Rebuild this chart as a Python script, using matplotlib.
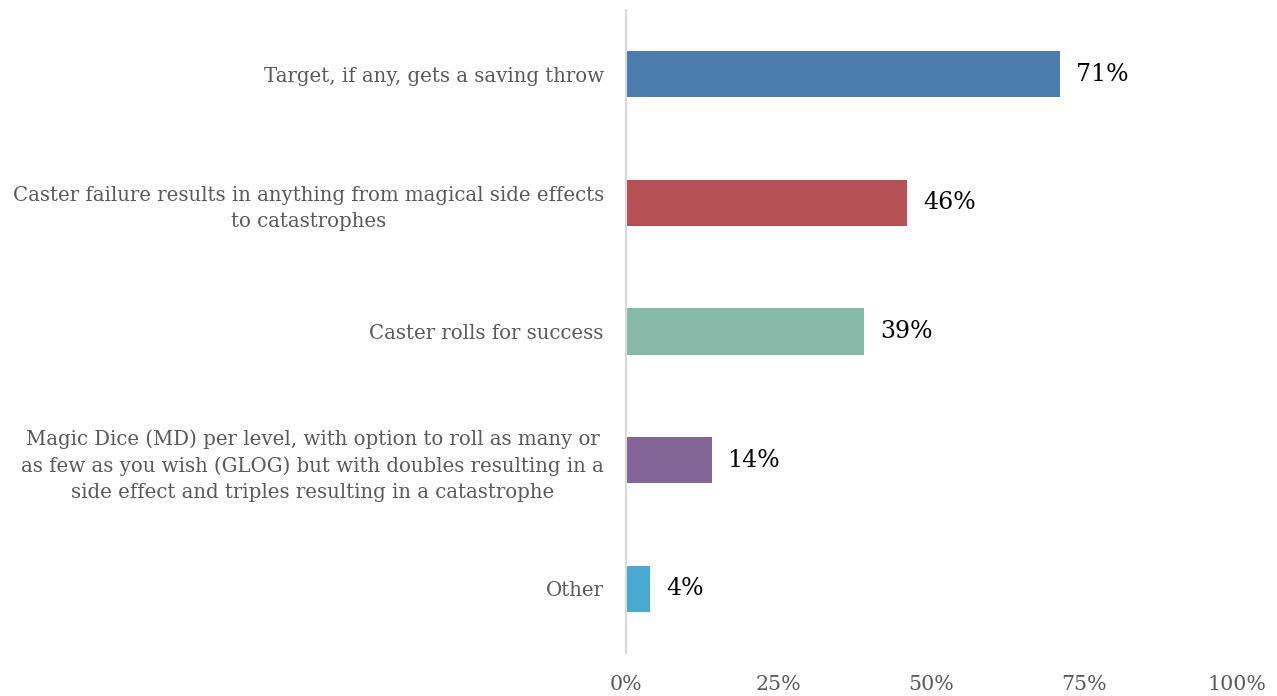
import matplotlib
matplotlib.use("Agg")
import matplotlib.pyplot as plt
from matplotlib.ticker import FixedLocator

categories = [
    "Target, if any, gets a saving throw",
    "Caster failure results in anything from magical side effects\nto catastrophes",
    "Caster rolls for success",
    "Magic Dice (MD) per level, with option to roll as many or\nas few as you wish (GLOG) but with doubles resulting in a\nside effect and triples resulting in a catastrophe",
    "Other",
]
values = [71, 46, 39, 14, 4]
value_labels = ["71%", "46%", "39%", "14%", "4%"]
colors = ["#4A7DAE", "#B55054", "#86BAA8", "#836596", "#47A9D0"]
xticks = [0, 25, 50, 75, 100]
xtick_labels = ["0%", "25%", "50%", "75%", "100%"]

plt.rcParams['font.family'] = ['DejaVu Serif']

fig = plt.figure(figsize=(12.77, 6.96), dpi=100)
ax = fig.add_axes([626/1277, 1-653/696, (1237-626)/1277, (653-10)/696])

ypos = list(range(len(categories)))
ax.barh(ypos, values, height=0.36, color=colors)
for y, v, lab in zip(ypos, values, value_labels):
    ax.text(v + 2.6, y, lab, va='center', ha='left', fontsize=17, color='#000000')

ax.set_ylim(len(categories) - 0.5, -0.5)
ax.set_xlim(0, 100)
ax.set_yticks(ypos)
ax.set_yticklabels(categories, fontsize=14.2, color='#595959', ha='right',
                   multialignment='center', linespacing=1.45)
ax.xaxis.set_major_locator(FixedLocator(xticks))
ax.set_xticklabels(xtick_labels, fontsize=14.8, color='#595959')
ax.tick_params(axis='both', length=0)
ax.tick_params(axis='x', pad=16)
ax.tick_params(axis='y', pad=16)

for s in ['top', 'right', 'bottom']:
    ax.spines[s].set_visible(False)
ax.spines['left'].set_color('#D9D9D9')
ax.spines['left'].set_linewidth(1.5)

fig.savefig("out.png", dpi=100, facecolor='white')
